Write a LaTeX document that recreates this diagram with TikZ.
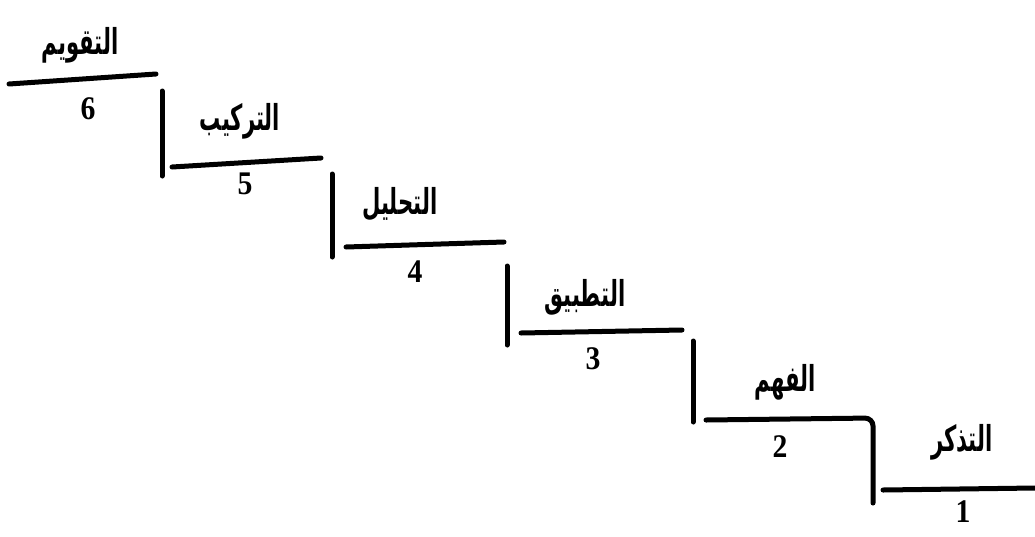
\documentclass[tikz,border=0pt]{standalone}
\usepackage{fontspec}
\newfontfamily\arabicfont[Script=Arabic]{DejaVu Sans}
\newfontfamily\numfont{Liberation Serif}
\TeXXeTstate=1
\begin{document}
\begin{tikzpicture}[x=1pt,y=-1pt,
  stair/.style={line width=5pt,line cap=round},
  lbl/.style={font=\arabicfont\bfseries\fontsize{23}{25}\selectfont,inner sep=0pt,xscale=0.92,yscale=1.55},
  num/.style={font=\numfont\bfseries\fontsize{33}{35}\selectfont,inner sep=0pt,xscale=0.9}]
\useasboundingbox (0,0) rectangle (1035,536);
% step coordinates
\coordinate (h6a) at (9,84);   \coordinate (h6b) at (156,74);
\coordinate (v5a) at (162,91); \coordinate (v5b) at (162,176);
\coordinate (h5a) at (172,167);\coordinate (h5b) at (321,158);
\coordinate (v4a) at (332,174);\coordinate (v4b) at (332,257);
\coordinate (h4a) at (346,247);\coordinate (h4b) at (504,242);
\coordinate (v3a) at (507,266);\coordinate (v3b) at (507,345);
\coordinate (h3a) at (521,333);\coordinate (h3b) at (682,330);
\coordinate (v2a) at (693,341);\coordinate (v2b) at (693,422);
\coordinate (h2a) at (706,420);\coordinate (h2b) at (873,418);
\coordinate (v1b) at (873,503);
\coordinate (h1a) at (883,490);\coordinate (h1b) at (1035,488);
\draw[stair] (h6a) -- (h6b);
\draw[stair] (v5a) -- (v5b);
\draw[stair] (h5a) -- (h5b);
\draw[stair] (v4a) -- (v4b);
\draw[stair] (h4a) -- (h4b);
\draw[stair] (v3a) -- (v3b);
\draw[stair] (h3a) -- (h3b);
\draw[stair] (v2a) -- (v2b);
\draw[stair,rounded corners=8pt] (h2a) -- (h2b) -- (v1b);
\draw[stair] (h1a) -- (h1b);
% labels
\node[lbl] (l6) at (80,45) {\beginR التقويم\endR};
\node[lbl] (l5) at (240,121) {\beginR التركيب\endR};
\node[lbl] (l4) at (400,204) {\beginR التحليل\endR};
\node[lbl] (l3) at (585,297) {\beginR التطبيق\endR};
\node[lbl] (l2) at (785,382) {\beginR الفهم\endR};
\node[lbl] (l1) at (962,442) {\beginR التذكر\endR};
% numbers
\node[num] (n6) at (88,109) {6};
\node[num] (n5) at (245,184) {5};
\node[num] (n4) at (415,272) {4};
\node[num] (n3) at (593,359) {3};
\node[num] (n2) at (780,447) {2};
\node[num] (n1) at (963,512) {1};
\end{tikzpicture}
\end{document}
